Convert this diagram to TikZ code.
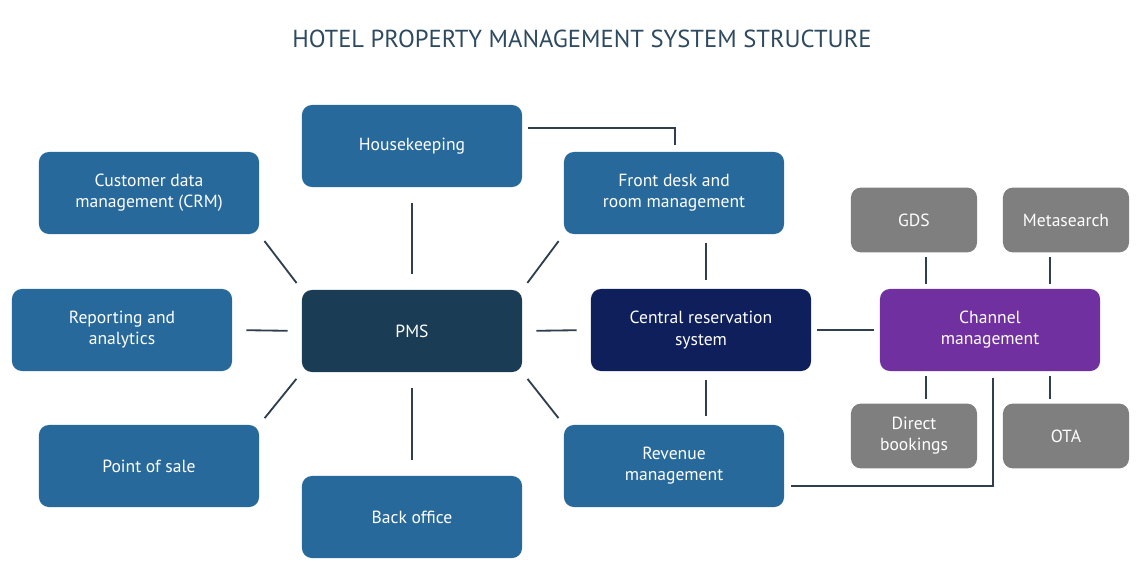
\documentclass[tikz,border=0pt]{standalone}
\usepackage{fontspec}
\setmainfont{PT Sans}
\usetikzlibrary{calc}
\definecolor{boxblue}{HTML}{28699C}
\definecolor{pmsc}{HTML}{1B3C55}
\definecolor{crsc}{HTML}{0E1F5B}
\definecolor{chan}{HTML}{7030A0}
\definecolor{grayb}{HTML}{7F7F7F}
\definecolor{linec}{HTML}{2F3F4F}
\definecolor{titlec}{HTML}{2E4A60}
\begin{document}
\begin{tikzpicture}[x=0.025cm,y=-0.025cm,
  box/.style={draw=none,fill=boxblue,rounded corners=7pt,minimum width=5.5cm,minimum height=2.05cm,text=white,align=center,font=\fontsize{12.5}{15}\selectfont},
  sbox/.style={box,fill=grayb,minimum width=3.15cm,minimum height=1.62cm},
  con/.style={draw=linec,line width=1.3pt,shorten >=6pt,shorten <=6pt}]
\useasboundingbox (0,0) rectangle (1144,572);
\node[text=titlec,font=\fontsize{17.5}{20}\selectfont] (title) at (582,39) {HOTEL PROPERTY MANAGEMENT SYSTEM STRUCTURE};
\node[box] (hk) at (412,146) {Housekeeping};
\node[box] (fd) at (674,193) {Front desk and\\room management};
\node[box] (crm) at (149,193) {Customer data\\management (CRM)};
\node[box] (rep) at (122,330) {Reporting and\\analytics};
\node[box,fill=pmsc] (pms) at (412,331) {PMS};
\node[box,fill=crsc] (crs) at (701,330) {Central reservation\\system};
\node[box,fill=chan] (ch) at (990,330) {Channel\\management};
\node[sbox] (gds) at (914,220) {GDS};
\node[sbox] (meta) at (1066,220) {Metasearch};
\node[sbox] (dir) at (914,436) {Direct\\bookings};
\node[sbox] (ota) at (1066,436) {OTA};
\node[box] (pos) at (149,466) {Point of sale};
\node[box] (bo) at (412,517) {Back office};
\node[box] (rev) at (674,466) {Revenue\\management};
\draw[con] (crm.south east) -- (pms.north west);
\draw[con] (pos.north east) -- (pms.south west);
\draw[con] (fd.south west) -- (pms.north east);
\draw[con] (rev.north west) -- (pms.south east);
\draw[con,shorten >=11pt,shorten <=11pt] (hk.south) -- (pms.north);
\draw[con,shorten >=11pt,shorten <=11pt] (bo.north) -- (pms.south);
\draw[con,shorten >=10pt,shorten <=10pt] (rep.east) -- (pms.west);
\draw[con,shorten >=10pt,shorten <=10pt] (pms.east) -- (crs.west);
\draw[con,shorten >=4pt,shorten <=4pt] (crs.east) -- (ch.west);
\coordinate (a1) at ($(crs.north)+(5,0)$);
\coordinate (a2) at ($(crs.south)+(5,0)$);
\draw[con] (a1 |- fd.south) -- (a1);
\draw[con] (a2) -- (a2 |- rev.north);
\coordinate (hke) at (hk.east |- 0,128);
\coordinate (fdn) at (675,152);
\draw[con,shorten >=5pt,shorten <=4pt] (hke) -| (fdn);
\coordinate (reve) at (rev.east |- 0,486);
\coordinate (chs) at (993,371);
\draw[con,shorten >=5pt,shorten <=5pt] (reve) -| (chs);
\coordinate (g1) at (926,0);
\coordinate (m1) at (1050,0);
\draw[con,shorten >=3pt,shorten <=3pt] (g1 |- gds.south) -- (g1 |- ch.north);
\draw[con,shorten >=3pt,shorten <=3pt] (m1 |- meta.south) -- (m1 |- ch.north);
\draw[con,shorten >=3pt,shorten <=3pt] (g1 |- ch.south) -- (g1 |- dir.north);
\draw[con,shorten >=3pt,shorten <=3pt] (m1 |- ch.south) -- (m1 |- ota.north);
\end{tikzpicture}
\end{document}
